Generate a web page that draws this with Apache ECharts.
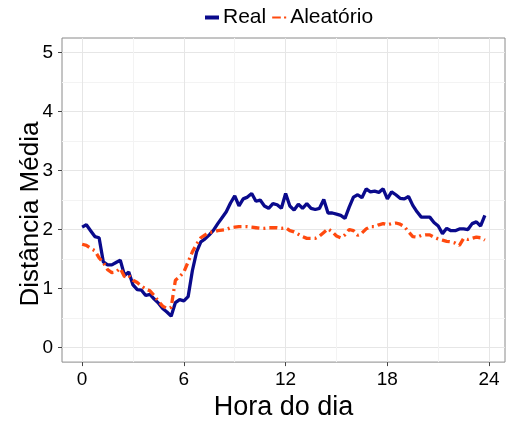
<!DOCTYPE html>
<html>
<head>
<meta charset="utf-8">
<script src="https://cdn.jsdelivr.net/npm/echarts@6/dist/echarts.min.js"></script>
<style>
html, body { margin: 0; padding: 0; background: #fff; }
#chart { width: 506px; height: 426px; }
</style>
</head>
<body>
<div id="chart"></div>
<script>
// hora do dia, de 15 em 15 minutos
const horas = [
  0, 0.25, 0.5, 0.75, 1, 1.25, 1.5, 1.75, 2, 2.25, 2.5, 2.75,
  3, 3.25, 3.5, 3.75, 4, 4.25, 4.5, 4.75, 5, 5.25, 5.5, 5.75,
  6, 6.25, 6.5, 6.75, 7, 7.25, 7.5, 7.75, 8, 8.25, 8.5, 8.75,
  9, 9.25, 9.5, 9.75, 10, 10.25, 10.5, 10.75, 11, 11.25, 11.5, 11.75,
  12, 12.25, 12.5, 12.75, 13, 13.25, 13.5, 13.75, 14, 14.25, 14.5, 14.75,
  15, 15.25, 15.5, 15.75, 16, 16.25, 16.5, 16.75, 17, 17.25, 17.5, 17.75,
  18, 18.25, 18.5, 18.75, 19, 19.25, 19.5, 19.75, 20, 20.25, 20.5, 20.75,
  21, 21.25, 21.5, 21.75, 22, 22.25, 22.5, 22.75, 23, 23.25, 23.5, 23.75
];

const real = [
  2.04, 2.08, 1.98, 1.88, 1.86, 1.45, 1.40, 1.40, 1.44, 1.48, 1.22, 1.28,
  1.06, 0.98, 0.97, 0.88, 0.90, 0.82, 0.75, 0.66, 0.60, 0.53, 0.76, 0.81,
  0.79, 0.86, 1.30, 1.62, 1.79, 1.84, 1.91, 1.99, 2.10, 2.20, 2.30, 2.45,
  2.57, 2.40, 2.52, 2.55, 2.61, 2.48, 2.50, 2.40, 2.36, 2.44, 2.42, 2.36,
  2.61, 2.40, 2.33, 2.43, 2.36, 2.44, 2.36, 2.34, 2.36, 2.51, 2.28, 2.28,
  2.26, 2.24, 2.19, 2.38, 2.55, 2.59, 2.54, 2.69, 2.64, 2.65, 2.63, 2.69,
  2.52, 2.64, 2.59, 2.53, 2.52, 2.56, 2.41, 2.30, 2.21, 2.21, 2.21, 2.12,
  2.06, 1.93, 2.02, 1.98, 1.98, 2.01, 2.01, 2.00, 2.10, 2.13, 2.06, 2.24
];

const aleatorio = [
  1.75, 1.73, 1.68, 1.64, 1.52, 1.44, 1.32, 1.27, 1.28, 1.34, 1.20, 1.22,
  1.14, 1.10, 1.04, 0.99, 0.96, 0.88, 0.78, 0.70, 0.66, 0.68, 1.14, 1.20,
  1.28, 1.45, 1.62, 1.75, 1.86, 1.91, 1.95, 1.96, 1.98, 1.99, 2.00, 2.03,
  2.04, 2.05, 2.05, 2.05, 2.04, 2.03, 2.02, 2.02, 2.03, 2.03, 2.03, 2.02,
  2.03, 1.98, 1.96, 1.92, 1.88, 1.85, 1.85, 1.85, 1.89, 1.95, 2.01, 1.96,
  1.89, 1.86, 1.91, 2.00, 1.98, 1.90, 1.94, 2.01, 2.05, 2.05, 2.08, 2.10,
  2.08, 2.10, 2.11, 2.09, 2.05, 1.96, 1.88, 1.87, 1.90, 1.91, 1.91, 1.87,
  1.84, 1.82, 1.80, 1.79, 1.77, 1.73, 1.85, 1.83, 1.85, 1.87, 1.86, 1.82
];

const xTicks = [0, 6, 12, 18, 24];
const xMinor = [3, 9, 15, 21];
const yTicks = [0, 1, 2, 3, 4, 5];
const yMinor = [0.5, 1.5, 2.5, 3.5, 4.5];

const chart = echarts.init(document.getElementById('chart'));

const fonte = 'Liberation Sans, Arial, sans-serif';
const xRange = { min: -1.1875, max: 24.9375 };
const yRange = { min: -0.25, max: 5.25 };
const corReal = '#0a0a8c';
const corAleat = '#ff4a0f';

chart.setOption({
  animation: false,
  textStyle: { fontFamily: fonte },
  legend: {
    top: 2,
    left: 200,
    itemWidth: 14,
    itemHeight: 4,
    itemGap: 6,
    textStyle: { fontSize: 21, color: '#000', fontFamily: fonte, padding: [0, 0, 0, -1] },
    data: [
      { name: 'Real', icon: 'rect' },
      { name: 'Aleatório', icon: 'path://M0,0h8v2h-8z M11,0h2v2h-2z' }
    ]
  },
  grid: {
    left: 62, right: 1, top: 38, bottom: 55,
    show: true,
    borderColor: '#8a8a8a',
    borderWidth: 1,
    backgroundColor: 'transparent'
  },
  xAxis: [
    {
      type: 'value',
      min: xRange.min, max: xRange.max,
      name: 'Hora do dia',
      nameLocation: 'middle',
      nameGap: 24,
      nameTextStyle: { fontSize: 27, color: '#000', fontFamily: fonte },
      axisLine: { show: false, onZero: false },
      axisTick: { show: true, length: 4, customValues: xTicks, lineStyle: { color: '#444' } },
      axisLabel: { customValues: xTicks, fontSize: 19, color: '#000', margin: 8, fontFamily: fonte },
      splitLine: { show: true, lineStyle: { color: '#e6e6e6', width: 1 } }
    },
    {
      type: 'value',
      position: 'top',
      min: xRange.min, max: xRange.max,
      axisLine: { show: false, onZero: false },
      axisTick: { show: false, customValues: xMinor },
      axisLabel: { show: false, customValues: xMinor },
      splitLine: { show: true, lineStyle: { color: '#f3f3f3', width: 1 } }
    }
  ],
  yAxis: [
    {
      type: 'value',
      min: yRange.min, max: yRange.max,
      name: 'Distância Média',
      nameLocation: 'middle',
      nameGap: 18,
      nameMoveOverlap: false,
      nameTextStyle: { fontSize: 26, color: '#000', fontFamily: fonte, padding: [0, 28, 0, 0] },
      axisLine: { show: false, onZero: false },
      axisTick: { show: true, length: 4, customValues: yTicks, lineStyle: { color: '#444' } },
      axisLabel: { customValues: yTicks, fontSize: 19, color: '#000', margin: 9, fontFamily: fonte },
      splitLine: { show: true, lineStyle: { color: '#e6e6e6', width: 1 } }
    },
    {
      type: 'value',
      position: 'right',
      min: yRange.min, max: yRange.max,
      axisLine: { show: false, onZero: false },
      axisTick: { show: false, customValues: yMinor },
      axisLabel: { show: false, customValues: yMinor },
      splitLine: { show: true, lineStyle: { color: '#f3f3f3', width: 1 } }
    }
  ],
  series: [
    {
      name: 'Real',
      type: 'line',
      data: horas.map((h, i) => [h, real[i]]),
      symbol: 'none',
      lineStyle: { color: corReal, width: 3.3 },
      itemStyle: { color: corReal }
    },
    {
      name: 'Aleatório',
      type: 'line',
      data: horas.map((h, i) => [h, aleatorio[i]]),
      symbol: 'none',
      lineStyle: { color: corAleat, width: 3.3, type: [8, 4, 2, 4] },
      itemStyle: { color: corAleat }
    }
  ]
});
</script>
</body>
</html>
